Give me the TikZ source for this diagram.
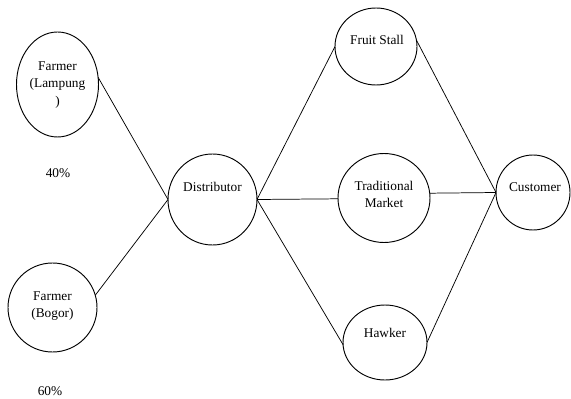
\documentclass[tikz,border=0pt]{standalone}
\usepackage{fontspec}
\setmainfont{Liberation Serif}
\usepackage{tikz}
\usetikzlibrary{shapes.geometric}

\begin{document}
\begin{tikzpicture}[x=0.75pt, y=-0.75pt,
  oval/.style={draw, ellipse, line width=0.7pt, inner sep=0pt, outer sep=0pt},
  lab/.style={align=center, inner sep=0pt, font=\fontsize{10}{13}\selectfont},
  link/.style={line width=0.55pt}]
  \useasboundingbox (0,0) rectangle (571,399);
  % circles
  \node[oval, minimum width=61.5pt, minimum height=78.75pt] (lamp) at (57.5,84.5) {};
  \node[oval, minimum width=66.75pt, minimum height=66.75pt] (bogor) at (52.5,307.5) {};
  \node[oval, minimum width=66.75pt, minimum height=68.25pt] (dist) at (212.5,199.5) {};
  \node[oval, minimum width=61.5pt, minimum height=57.75pt] (fruit) at (376,46.5) {};
  \node[oval, minimum width=69pt, minimum height=66.75pt] (trad) at (384,198) {};
  \node[oval, minimum width=63pt, minimum height=56.25pt] (hawker) at (385,342.5) {};
  \node[oval, minimum width=55.5pt, minimum height=56.25pt] (cust) at (533,192.5) {};
  % texts
  \node[lab] (lampT) at (57.5,85) {Farmer\\(Lampung\\)};
  \node[lab] (bogorT) at (52.5,306) {Farmer\\(Bogor)};
  \node[lab] (lampP) at (58,173) {40\%};
  \node[lab] (bogorP) at (50,391) {60\%};
  \node[lab] (distT) at (212.5,187) {Distributor};
  \node[lab] (fruitT) at (377,40) {Fruit Stall};
  \node[lab] (tradT) at (384,194.5) {Traditional\\Market};
  \node[lab] (hawkerT) at (385,333) {Hawker};
  \node[lab] (custT) at (535,187) {Customer};
  % links
  \draw[link] (lamp.10) -- (dist.west);
  \draw[link] (bogor.16) -- (dist.west);
  \draw[link] (dist.east) -- (fruit.west);
  \draw[link] (dist.east) -- (trad.181);
  \draw[link] (dist.east) -- (hawker.183);
  \draw[link] (fruit.9) -- (cust.west);
  \draw[link] (trad.6) -- (cust.west);
  \draw[link] (hawker.east) -- (cust.west);
\end{tikzpicture}
\end{document}
